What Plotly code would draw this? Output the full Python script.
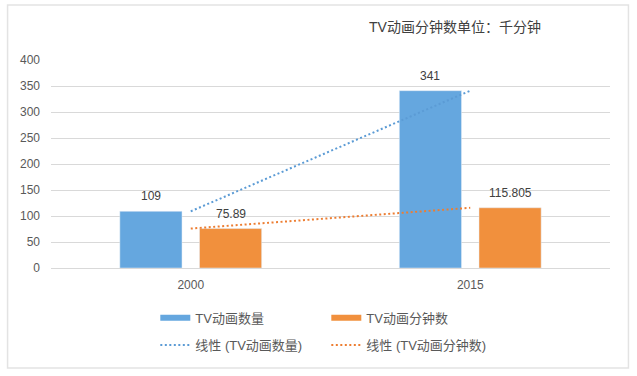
import plotly.graph_objects as go

categories = ["2000", "2015"]
tv_count = [109, 341]
tv_minutes = [75.89, 115.805]
count_labels = ["109", "341"]
minutes_labels = ["75.89", "115.805"]
y_ticks = [0, 50, 100, 150, 200, 250, 300, 350, 400]

title_text = "TV动画分钟数单位：千分钟"
name_count = "TV动画数量"
name_minutes = "TV动画分钟数"
name_trend_count = "线性 (TV动画数量)"
name_trend_minutes = "线性 (TV动画分钟数)"

BLUE = "#65A7DF"
ORANGE = "#F1903D"
BLUE_T = "#5B9BD5"
ORANGE_T = "#ED7D31"
FONT = "Liberation Sans, Noto Sans CJK SC, sans-serif"

fig = go.Figure()
fig.add_trace(go.Bar(x=categories, y=tv_count, marker_color=BLUE, name=name_count,
                     showlegend=False))
fig.add_trace(go.Bar(x=categories, y=tv_minutes, marker_color=ORANGE, name=name_minutes,
                     showlegend=False))
fig.add_trace(go.Scatter(x=categories, y=tv_count, mode="lines", name=name_trend_count,
                         line=dict(color=BLUE_T, width=2, dash="2px,2.5px"), legend="legend2"))
fig.add_trace(go.Scatter(x=categories, y=tv_minutes, mode="lines", name=name_trend_minutes,
                         line=dict(color=ORANGE_T, width=2, dash="2px,2.5px"), legend="legend2"))
# legend-only patches for the bar series
fig.add_trace(go.Scatter(x=[categories[0]], y=[None], mode="lines", name=name_count,
                         line=dict(color=BLUE, width=6), legend="legend"))
fig.add_trace(go.Scatter(x=[categories[0]], y=[None], mode="lines", name=name_minutes,
                         line=dict(color=ORANGE, width=6), legend="legend"))

# data labels (x given as category index)
for vals, labs, shift in ((tv_count, count_labels, -40), (tv_minutes, minutes_labels, 40)):
    for i, (v, t) in enumerate(zip(vals, labs)):
        fig.add_annotation(x=i, y=v, xref="x", yref="y", text=t, showarrow=False,
                           xshift=shift, yshift=15,
                           font=dict(size=12, color="#404040", family=FONT))

# outer frame
fig.add_shape(type="rect", xref="paper", yref="paper", x0=-0.0777, x1=1.033,
              y0=-0.481, y1=1.264, line=dict(color="#E3E3E3", width=1.5), layer="below")

leg_common = dict(orientation="h", xanchor="left", yanchor="middle", bgcolor="rgba(0,0,0,0)",
                  font=dict(size=13, color="#595959", family=FONT),
                  entrywidth=126, itemwidth=30, traceorder="normal")

fig.update_layout(
    width=637, height=376,
    margin=dict(l=50.5, r=26.5, t=60, b=108, autoexpand=False),
    paper_bgcolor="white", plot_bgcolor="white",
    barmode="group", bargap=0.43, bargroupgap=0.22,
    font=dict(family=FONT, size=12, color="#595959"),
    title=dict(text=title_text, x=455/637, xanchor="center", y=1-27/376, yanchor="middle",
               font=dict(size=14, color="#404040", family=FONT)),
    legend=dict(x=0.1866, y=-0.24, **leg_common),
    legend2=dict(x=0.1866, y=-0.37, **leg_common),
    xaxis=dict(type="category", categoryorder="array", categoryarray=categories,
               range=[-0.5, 1.5], showgrid=False, showline=True, linecolor="#D9D9D9",
               linewidth=1, ticks="", ticklabelstandoff=6,
               tickfont=dict(size=12, color="#595959")),
    yaxis=dict(range=[0, 400], tickvals=y_ticks, showgrid=True, gridcolor="#D9D9D9",
               gridwidth=1, zeroline=False, ticks="", ticklabelstandoff=10,
               tickfont=dict(size=12, color="#595959")),
)

fig.write_html("out.html", config={"displayModeBar": False},
               post_script="document.body.style.margin='0px';")
